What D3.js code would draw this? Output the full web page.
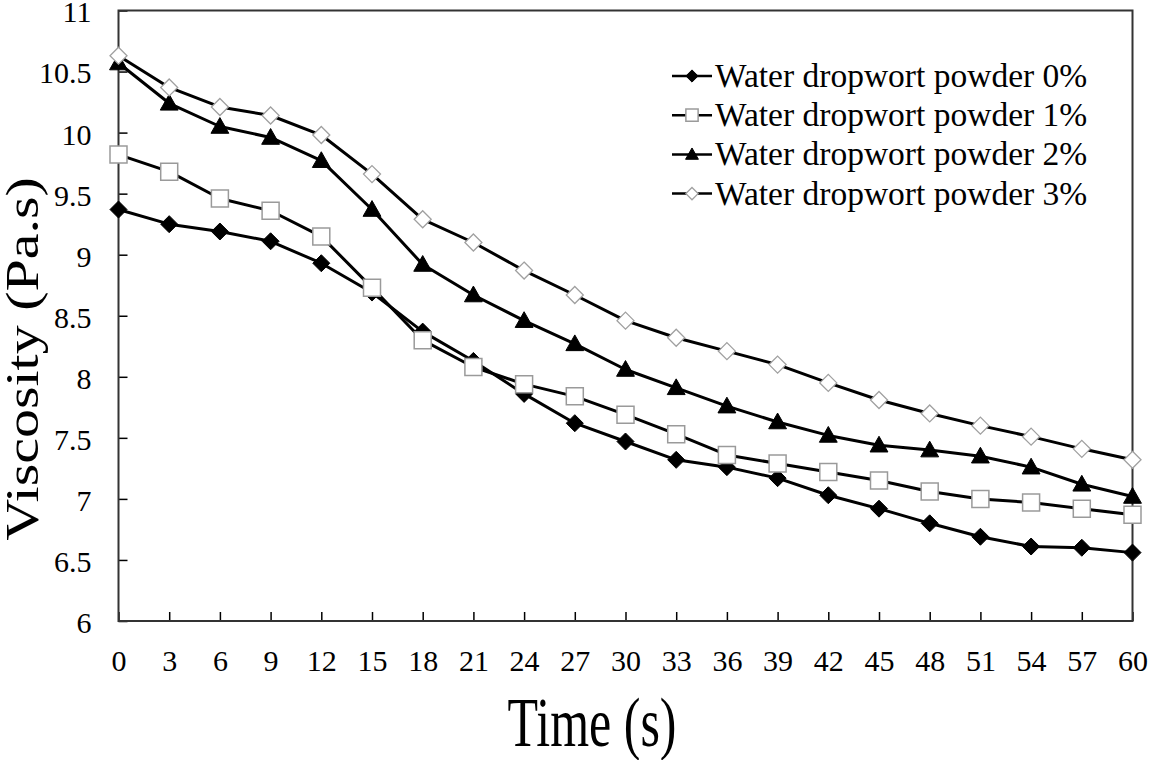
<!DOCTYPE html>
<html>
<head>
<meta charset="utf-8">
<script src="https://cdn.jsdelivr.net/npm/d3@7"></script>
<style>
  html, body { margin: 0; padding: 0; background: #fff; }
  svg { display: block; }
</style>
</head>
<body>
<svg id="chart" width="1150" height="760"></svg>
<script>
// ---- data ----
const times = [0, 3, 6, 9, 12, 15, 18, 21, 24, 27, 30, 33, 36, 39, 42, 45, 48, 51, 54, 57, 60];
const powder0 = [9.37, 9.25, 9.19, 9.11, 8.93, 8.69, 8.37, 8.13, 7.86, 7.62, 7.47, 7.32, 7.26, 7.17, 7.03, 6.92, 6.80, 6.69, 6.61, 6.60, 6.56];
const powder1 = [9.82, 9.68, 9.46, 9.36, 9.15, 8.73, 8.30, 8.08, 7.94, 7.84, 7.69, 7.53, 7.36, 7.29, 7.22, 7.15, 7.06, 7.00, 6.97, 6.92, 6.87];
const powder2 = [10.57, 10.24, 10.05, 9.96, 9.77, 9.37, 8.92, 8.67, 8.46, 8.27, 8.06, 7.91, 7.76, 7.63, 7.52, 7.44, 7.40, 7.35, 7.26, 7.12, 7.02];
const powder3 = [10.63, 10.37, 10.21, 10.14, 9.98, 9.66, 9.29, 9.10, 8.87, 8.67, 8.46, 8.32, 8.21, 8.10, 7.95, 7.81, 7.70, 7.60, 7.51, 7.41, 7.32];
const seriesNames = ["Water dropwort powder 0%", "Water dropwort powder 1%", "Water dropwort powder 2%", "Water dropwort powder 3%"];
const yTickValues = [6, 6.5, 7, 7.5, 8, 8.5, 9, 9.5, 10, 10.5, 11];
const yTickLabels = ["6", "6.5", "7", "7.5", "8", "8.5", "9", "9.5", "10", "10.5", "11"];
const xTickLabels = ["0","3","6","9","12","15","18","21","24","27","30","33","36","39","42","45","48","51","54","57","60"];
const xTitle = "Time (s)";
const yTitle = "Viscosity (Pa.s)";

// ---- layout ----
const FONT = "'Liberation Serif'";
const L = 118.5, R = 1132.5, T = 10.5, B = 621;
const svg = d3.select("#chart");
const x = d3.scaleLinear().domain([0, 60]).range([L, R]);
const y = d3.scaleLinear().domain([6, 11]).range([B, T]);

function markerPath(kind, r) {
  if (kind === "diamond") return `M0,${-r}L${r},0L0,${r}L${-r},0Z`;
  if (kind === "square") return `M${-r},${-r}H${r}V${r}H${-r}Z`;
  if (kind === "triangle") return `M0,${-r*1.05}L${r*1.05},${r*0.8}L${-r*1.05},${r*0.8}Z`;
  return "";
}
const styles = [
  { kind: "diamond", fill: "#000", stroke: "#000", sw: 1, r: 8.5 },
  { kind: "square", fill: "#fff", stroke: "#9a9a9a", sw: 1.5, r: 8.5 },
  { kind: "triangle", fill: "#000", stroke: "#000", sw: 1, r: 8.5 },
  { kind: "diamond", fill: "#fff", stroke: "#a0a0a0", sw: 1.3, r: 8.5 }
];
const allSeries = [powder0, powder1, powder2, powder3];

// ---- axes ----
const yAxis = d3.axisLeft(y).tickValues(yTickValues)
  .tickFormat((d, i) => yTickLabels[i]).tickSize(-9).tickPadding(27);
const gy = svg.append("g").attr("transform", `translate(${L},0)`).call(yAxis);
gy.select(".domain").remove();
gy.selectAll(".tick line").attr("stroke", "#000").attr("stroke-width", 1.5);
gy.selectAll(".tick text").attr("font-size", 30).attr("dy", "0.38em").attr("fill", "#000");

const xAxis = d3.axisBottom(x).tickValues(times)
  .tickFormat((d, i) => xTickLabels[i]).tickSize(-9).tickPadding(29);
const gx = svg.append("g").attr("transform", `translate(0,${B})`).call(xAxis);
gx.select(".domain").remove();
gx.selectAll(".tick line").attr("stroke", "#000").attr("stroke-width", 1.5);
gx.selectAll(".tick text").attr("font-size", 30).attr("fill", "#000");

// frame
svg.append("rect").attr("x", L).attr("y", T).attr("width", R - L).attr("height", B - T)
  .attr("fill", "none").attr("stroke", "#333").attr("stroke-width", 2);

// ---- series ----
const line = d3.line().x((d, i) => x(times[i])).y(d => y(d));
allSeries.forEach((vals, si) => {
  const st = styles[si];
  const g = svg.append("g");
  g.append("path").datum(vals).attr("d", line).attr("fill", "none")
    .attr("stroke", "#000").attr("stroke-width", 3).attr("stroke-linejoin", "round");
  g.selectAll("path.m").data(vals).enter().append("path").attr("class", "m")
    .attr("transform", (d, i) => `translate(${x(times[i])},${y(d)})`)
    .attr("d", markerPath(st.kind, st.r))
    .attr("fill", st.fill).attr("stroke", st.stroke).attr("stroke-width", st.sw);
});

// ---- legend ----
const lg = svg.append("g");
seriesNames.forEach((name, i) => {
  const cy = 76 + i * 39.2;
  const st = styles[i];
  lg.append("line").attr("x1", 672).attr("x2", 712).attr("y1", cy).attr("y2", cy)
    .attr("stroke", "#000").attr("stroke-width", 2.5);
  lg.append("path").attr("transform", `translate(692,${cy})`)
    .attr("d", markerPath(st.kind, st.r * 0.72))
    .attr("fill", st.fill).attr("stroke", st.stroke).attr("stroke-width", st.sw);
  lg.append("text").attr("x", 715).attr("y", cy + 11).attr("font-size", 33.5).text(name);
});

// ---- titles ----
svg.append("text").attr("transform", "translate(592,746) scale(1,1.4)")
  .attr("text-anchor", "middle").attr("font-size", 50).text(xTitle);
svg.append("text").attr("transform", "translate(38,359) rotate(-90) scale(1.26,1)")
  .attr("text-anchor", "middle").attr("font-size", 46).text(yTitle);

svg.selectAll("text").style("font-family", FONT).style("fill", "#000");
</script>
</body>
</html>
